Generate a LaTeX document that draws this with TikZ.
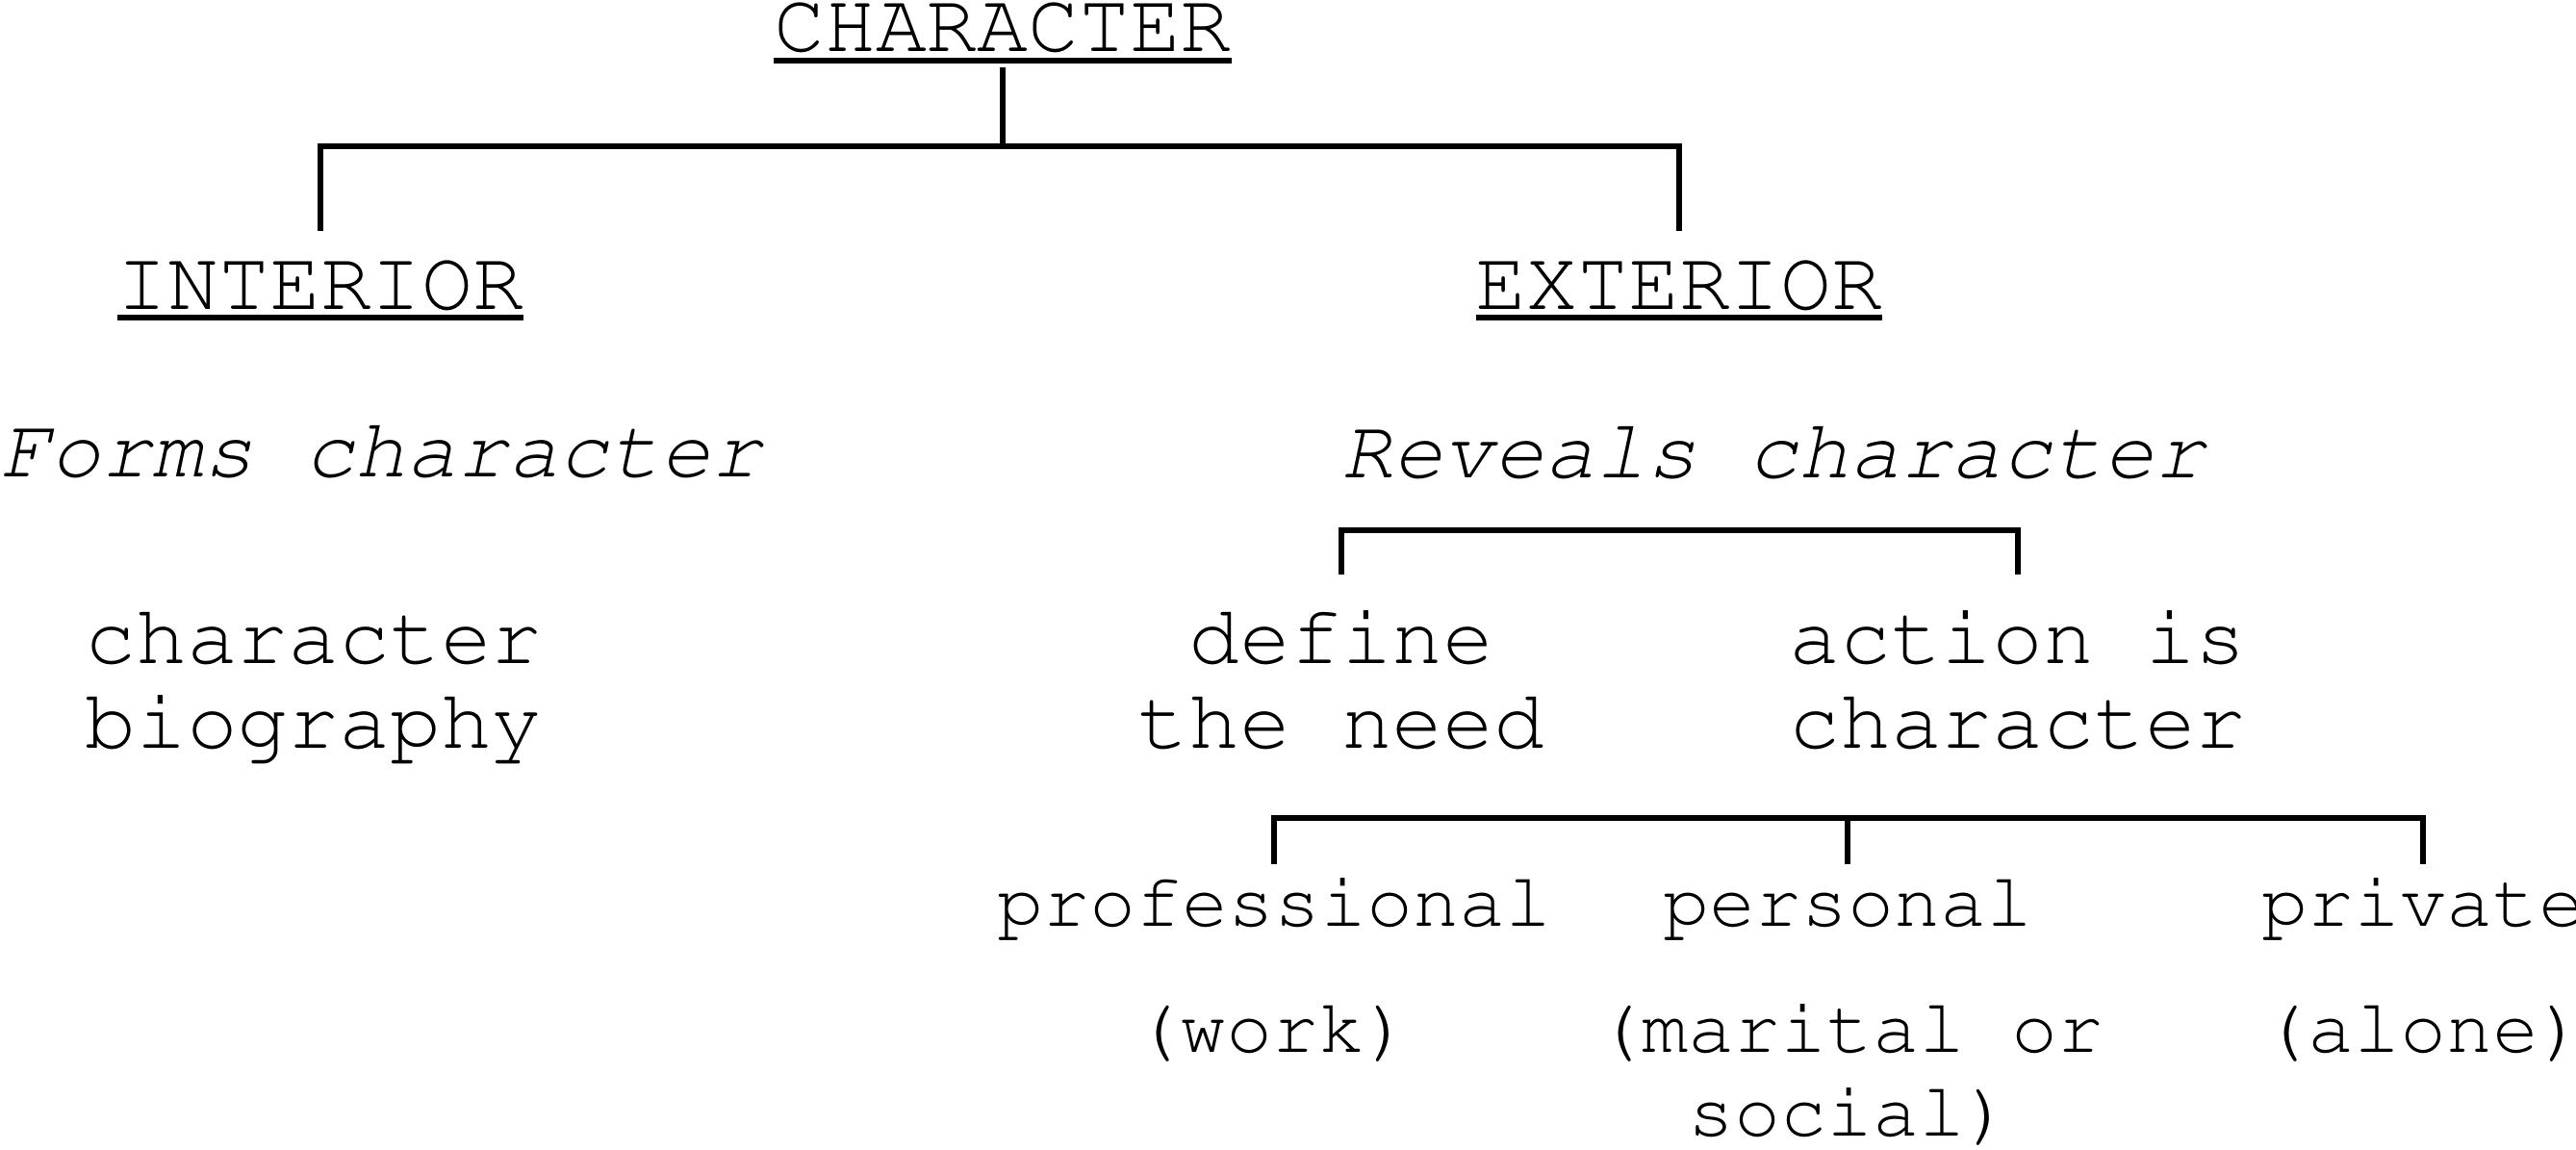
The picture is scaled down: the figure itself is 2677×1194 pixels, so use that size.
\documentclass[tikz,border=0pt]{standalone}
\usepackage[T1]{fontenc}
\usepackage{courier}
\usepackage{tikz}

\begin{document}
\begin{tikzpicture}[x=1pt, y=-1pt,
        word/.style={font=\ttfamily\fontsize{88}{88}\selectfont, inner sep=0pt, anchor=base, align=center},
        small/.style={word, font=\ttfamily\fontsize{80}{87}\selectfont},
        link/.style={line width=6pt},
        uline/.style={line width=5.5pt}]
        \useasboundingbox (0, 0) rectangle (2677, 1194);
        \fill [white] (0, 0) rectangle (2677, 1194);

        \node [word] (char) at (1042, 53) {CHARACTER};
        \node [word] (int) at (333, 321) {INTERIOR};
        \node [word] (ext) at (1745, 321) {EXTERIOR};

        \draw [uline] ([yshift=-10pt]char.base west) -- ([yshift=-10pt]char.base east);
        \draw [uline] ([yshift=-9pt]int.base west) -- ([yshift=-9pt]int.base east);
        \draw [uline] ([yshift=-9pt]ext.base west) -- ([yshift=-9pt]ext.base east);

        \node [word, anchor=base west, font=\ttfamily\itshape\fontsize{88}{88}\selectfont] (forms) at (0, 495) {Forms character};
        \node [word, anchor=base west, font=\ttfamily\itshape\fontsize{88}{88}\selectfont] (reveals) at (1394, 496) {Reveals character};

        \node [word] (bio) at (326, 777) {character\\biography};
        \node [word] (need) at (1394, 777) {define\\the need};
        \node [word] (act) at (2097, 777) {action is\\character};

        \node [small] (prof) at (1324, 962) {professional};
        \node [small] (pers) at (1920, 962) {personal};
        \node [small] (priv) at (2518, 962) {private};

        \node [small] (work) at (1322, 1093) {(work)};
        \node [small] (soc) at (1922, 1180) {(marital or\\social)};
        \node [small] (alone) at (2518, 1093) {(alone)};

        \coordinate (topbar) at (1042, 152);
        \draw [link] ([yshift=-17pt]char.base) -- (topbar);
        \draw [link] ([yshift=81pt]int.base) |- (topbar) -| ([yshift=81pt]ext.base);

        \draw [link] ([yshift=180pt]need.base) -- ++(0, -46) -| ([yshift=180pt]act.base);

        \draw [link] ([yshift=64pt]prof.base) -- ++(0, -48) -| ([yshift=64pt]priv.base);
        \draw [link] ([yshift=64pt]pers.base) -- ++(0, -48);
    \end{tikzpicture}
\end{document}
